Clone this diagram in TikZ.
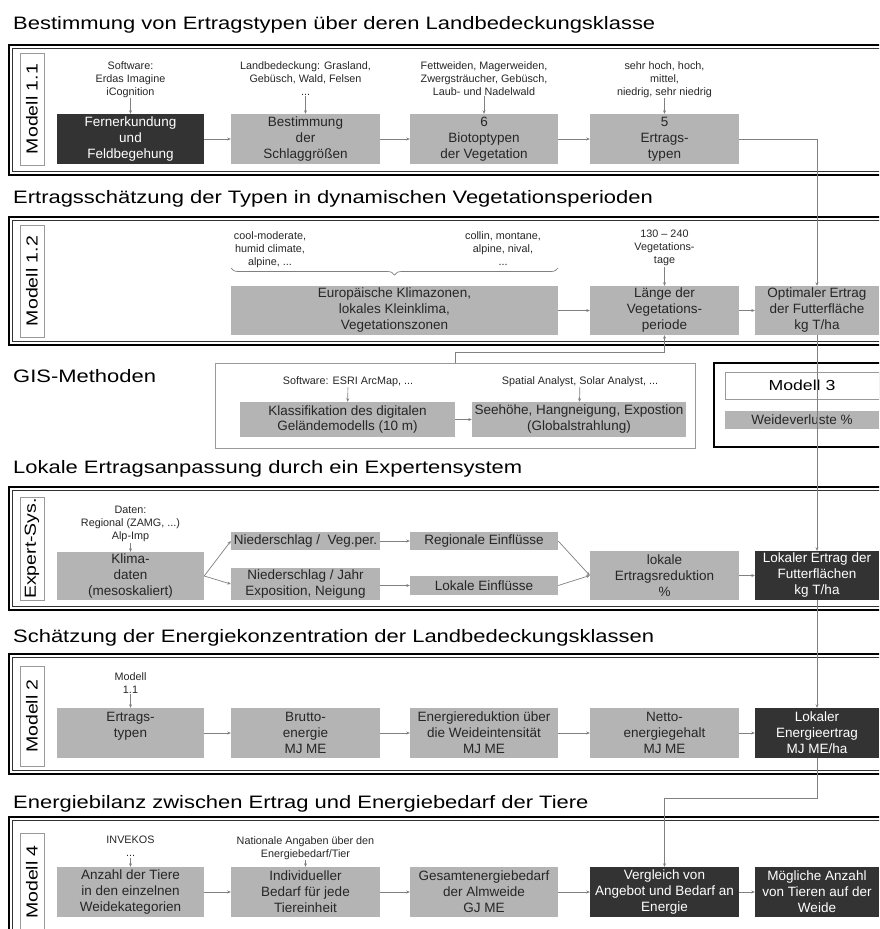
\documentclass[tikz,border=0pt]{standalone}
\usepackage{fontspec}
\setmainfont{Liberation Sans}
\newfontfamily\widefam[FakeStretch=1.22]{Liberation Sans}
\usetikzlibrary{arrows.meta,calc,decorations.pathreplacing,backgrounds}
\definecolor{boxgray}{HTML}{B4B4B4}
\definecolor{boxdark}{HTML}{333333}
\definecolor{txtdark}{HTML}{262626}
\definecolor{linegray}{HTML}{808080}
\definecolor{framegray}{HTML}{9A9A9A}
\newcommand\bxf{\fontsize{13.5}{16}\selectfont}
\newcommand\anf{\fontsize{10.8}{13}\selectfont}
\newcommand\ttlf{\widefam\fontsize{18}{20}\selectfont}
\newcommand\lblf{\widefam\fontsize{16}{18}\selectfont}
\newcommand\mthf{\widefam\fontsize{14.5}{16}\selectfont}
\begin{document}
\begin{tikzpicture}[x=1pt,y=1pt,
  gb/.style={fill=boxgray, text=txtdark, font=\bxf, align=center, inner sep=0pt, minimum height=50pt},
  db/.style={gb, fill=boxdark, text=white},
  an/.style={font=\anf, align=center, text=txtdark, inner sep=1pt, anchor=north},
  cn/.style={draw=linegray, line width=0.7pt, -{Stealth[length=3.5pt,width=3pt]}},
  ln/.style={draw=linegray, line width=0.7pt},
  ttl/.style={font=\ttlf, anchor=base west, inner sep=0pt, text=black},
  lbl/.style={draw=framegray, fill=white, line width=0.6pt, minimum height=24pt, inner sep=0pt, font=\lblf, text=black, rotate=90},
  frmout/.style={draw=black, line width=2pt},
  frmin/.style={draw=black!80, line width=0.7pt},
  c1/.style={minimum width=147pt},
  c2/.style={minimum width=149pt},
  c3/.style={minimum width=148pt},
  c4/.style={minimum width=149pt},
  c5/.style={minimum width=124pt}]
\useasboundingbox (0,0) rectangle (879,-929);
\clip (0,0) rectangle (879,-929);
\fill[white] (0,0) rectangle (879,-929);

% titles
\node[ttl] (t1) at (13,-29) {Bestimmung von Ertragstypen über deren Landbedeckungsklasse};
\node[ttl] (t2) at (13,-203) {Ertragsschätzung der Typen in dynamischen Vegetationsperioden};
\node[ttl] (t3) at (13,-382) {GIS-Methoden};
\node[ttl] (t4) at (13,-473) {Lokale Ertragsanpassung durch ein Expertensystem};
\node[ttl] (t5) at (13,-642) {Schätzung der Energiekonzentration der Landbedeckungsklassen};
\node[ttl] (t6) at (13,-808) {Energiebilanz zwischen Ertrag und Energiebedarf der Tiere};

% frames
\draw[frmout] (9,-45) rectangle (895,-175);
\draw[frmin] (12.5,-48.5) rectangle (895,-171.5);
\draw[frmout] (9,-217) rectangle (895,-345);
\draw[frmin] (12.5,-220.5) rectangle (895,-341.5);
\draw[frmout] (9,-487) rectangle (895,-610);
\draw[frmin] (12.5,-490.5) rectangle (895,-606.5);
\draw[frmout] (9,-654) rectangle (895,-774);
\draw[frmin] (12.5,-657.5) rectangle (895,-770.5);
\draw[frmout] (9,-817) rectangle (895,-950);
\draw[frmin] (12.5,-820.5) rectangle (895,-946.5);

% side labels
\node[lbl, minimum width=112pt] (l1) at (32,-109) {Modell 1.1};
\node[lbl, minimum width=112pt] (l2) at (32,-281) {Modell 1.2};
\node[lbl, minimum width=103pt] (l3) at (32,-548.5) {Expert-Sys.};
\node[lbl, minimum width=100pt] (l4) at (32,-716) {Modell 2};
\node[lbl, minimum width=98pt] (l5) at (32,-882) {Modell 4};

% ---- Modell 1.1
\node[db,c1] (fern) at (130.5,-139) {Fernerkundung\\und\\Feldbegehung};
\node[gb,c2] (best) at (305.5,-139) {Bestimmung\\der\\Schlaggrößen};
\node[gb,c3] (bio) at (484,-139) {6\\Biotoptypen\\der Vegetation};
\node[gb,c4] (ertr) at (664.5,-139) {5\\Ertrags-\\typen};
\node[an] (a11) at (130.5,-60) {Software:\\Erdas Imagine\\iCognition};
\node[an] (a12) at (305.5,-60) {Landbedeckung: Grasland,\\Gebüsch, Wald, Felsen\\...};
\node[an] (a13) at (484,-60) {Fettweiden, Magerweiden,\\Zwergsträucher, Gebüsch,\\Laub- und Nadelwald};
\node[an] (a14) at (664.5,-60) {sehr hoch, hoch,\\mittel,\\niedrig, sehr niedrig};
\draw[cn] (a11) -- (fern);
\draw[cn] (a12) -- (best);
\draw[cn] (a13) -- (bio);
\draw[cn] (a14) -- (ertr);
\draw[cn] (fern) -- (best);
\draw[cn] (best) -- (bio);
\draw[cn] (bio) -- (ertr);

% ---- Modell 1.2
\node[gb, minimum width=327pt, minimum height=49pt] (euro) at (394.5,-310.5) {Europäische Klimazonen,\\lokales Kleinklima,\\Vegetationszonen};
\node[gb,c4, minimum height=49pt] (laenge) at (664.5,-310.5) {Länge der\\Vegetations-\\periode};
\node[gb,c5, minimum height=49pt] (opt) at (817,-310.5) {Optimaler Ertrag\\der Futterfläche\\kg T/ha};
\node[an] (a21) at (270,-230) {cool-moderate,\\humid climate,\\alpine, ...};
\node[an] (a22) at (503,-230) {collin, montane,\\alpine, nival,\\...};
\node[an] (a23) at (664.5,-229) {130 – 240\\Vegetations-\\tage};
\draw[ln, decorate, decoration={brace, amplitude=7pt}] (558,-268) -- (231,-268);
\draw[cn] (a23) -- (laenge);
\draw[cn] (euro) -- (laenge);
\draw[cn] (laenge) -- (opt);
\draw[cn] (ertr.east) -| (opt.north);

% ---- GIS
\node[draw=framegray, line width=0.6pt, minimum width=480pt, minimum height=85pt, inner sep=0pt] (gis) at (455,-405.5) {};
\node[gb, minimum width=215pt, minimum height=35pt] (klass) at (347.5,-419.5) {Klassifikation des digitalen\\Geländemodells (10 m)};
\node[gb, minimum width=214pt, minimum height=35pt] (seeh) at (579,-419.5) {Seehöhe, Hangneigung, Expostion\\(Globalstrahlung)};
\node[an] (a31) at (348,-375) {Software: ESRI ArcMap, ...};
\node[an] (a32) at (580,-375) {Spatial Analyst, Solar Analyst, ...};
\draw[cn] (a31) -- (klass);
\draw[cn] (a32) -- (seeh);
\draw[cn] (klass) -- (seeh);
\draw[cn] (klass.east |- gis.north) -- ++(0,10) -| (laenge.south);

% ---- Modell 3
\node[draw=black, line width=2.4pt, minimum width=181pt, minimum height=84pt, inner sep=0pt] (m3frame) at (804.5,-405) {};
\node[draw=framegray, fill=white, line width=0.6pt, minimum width=154pt, minimum height=27pt, inner sep=0pt, font=\mthf] (m3) at (802,-385.5) {Modell 3};
\node[gb, minimum width=154pt, minimum height=18pt] (weide) at (802,-420) {Weideverluste \%};

% ---- Expert system
\node[gb,c1, minimum height=48pt] (klima) at (130.5,-576) {Klima-\\daten\\(mesoskaliert)};
\node[gb,c2, minimum height=18pt] (nvp) at (305.5,-541) {Niederschlag /\ \ Veg.per.};
\node[gb,c2, minimum height=32pt] (nj) at (305.5,-584) {Niederschlag / Jahr\\Exposition, Neigung};
\node[gb,c3, minimum height=18pt] (reg) at (484,-541) {Regionale Einflüsse};
\node[gb,c3, minimum height=19pt] (lok) at (484,-585.5) {Lokale Einflüsse};
\node[gb,c4, minimum height=49pt] (red) at (664.5,-575.5) {lokale\\Ertragsreduktion\\\%};
\node[db,c5, minimum height=49pt] (lokE) at (817,-575.5) {Lokaler Ertrag der\\Futterflächen\\kg T/ha};
\node[an] (a41) at (130.5,-505) {Daten:\\Regional (ZAMG, ...)\\Alp-Imp};
\draw[cn] (a41) -- (klima);
\draw[cn] (klima.east) -- (nvp.west);
\draw[cn] (klima.east) -- (nj.west);
\draw[cn] (nvp) -- (reg);
\draw[cn] (nj.east |- lok.west) -- (lok.west);
\draw[cn] (reg.east) -- (red.west);
\draw[cn] (lok.east) -- (red.west);
\draw[cn] (red) -- (lokE);
\begin{scope}[on background layer]
\draw[cn] ($(seeh.north east)+(0,-4)$) -- ++(18,0) |- ($(nj.north)+(0,61)$) -- (nj.north);
\end{scope}
\draw[cn] (opt) -- (lokE);

% ---- Modell 2
\node[gb,c1] (ertyp) at (130.5,-733) {Ertrags-\\typen\\\mbox{}};
\node[gb,c2] (brutto) at (305.5,-733) {Brutto-\\energie\\MJ ME};
\node[gb,c3] (ered) at (484,-733) {Energiereduktion über\\die Weideintensität\\MJ ME};
\node[gb,c4] (netto) at (664.5,-733) {Netto-\\energiegehalt\\MJ ME};
\node[db,c5] (lenerg) at (817,-733) {Lokaler\\Energieertrag\\MJ ME/ha};
\node[an] (a51) at (130.5,-671) {Modell\\1.1};
\draw[cn] (a51) -- (ertyp);
\draw[cn] (ertyp) -- (brutto);
\draw[cn] (brutto) -- (ered);
\draw[cn] (ered) -- (netto);
\draw[cn] (netto) -- (lenerg);
\draw[cn] (lokE) -- (lenerg);

% ---- Modell 4
\node[gb,c1] (anzahl) at (130.5,-892) {Anzahl der Tiere\\in den einzelnen\\Weidekategorien};
\node[gb,c2] (indiv) at (305.5,-892) {Individueller\\Bedarf für jede\\Tiereinheit};
\node[gb,c3] (gesamt) at (484,-892) {Gesamtenergiebedarf\\der Almweide\\GJ ME};
\node[db,c4] (vergl) at (664.5,-892) {Vergleich von\\Angebot und Bedarf an\\Energie};
\node[db,c5] (moegl) at (817,-892) {Mögliche Anzahl\\von Tieren auf der\\Weide};
\node[an] (a61) at (130.5,-835) {INVEKOS\\...};
\node[an] (a62) at (305.5,-835) {Nationale Angaben über den\\Energiebedarf/Tier};
\draw[cn] (a61) -- (anzahl);
\draw[cn] (a62) -- (indiv);
\draw[cn] (anzahl) -- (indiv);
\draw[cn] (indiv) -- (gesamt);
\draw[cn] (gesamt) -- (vergl);
\draw[cn] (vergl) -- (moegl);
\draw[cn] (lenerg.south) -- ++(0,-40) -| (vergl.north);
\end{tikzpicture}
\end{document}
